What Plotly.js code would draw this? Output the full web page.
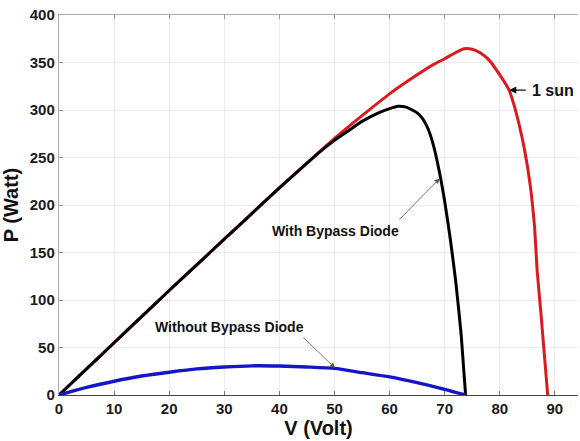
<!DOCTYPE html>
<html>
<head>
<meta charset="utf-8">
<script src="https://cdn.plot.ly/plotly-3.0.1.min.js"></script>
<style>html,body{margin:0;padding:0;background:#fff;}#chart{width:580px;height:441px;}</style>
</head>
<body>
<div id="chart"></div>
<script>
// 1 sun (red) P-V curve
const vSun = [0, 5, 10, 15, 20, 25, 30, 35, 40, 45, 50, 55, 60, 65, 68, 70, 72, 73.5, 75, 76.5, 78, 80, 81.7, 82.5, 83.5, 84.5, 85.5, 86.3, 86.8, 87.5, 88.2, 88.7];
const pSun = [0, 27.5, 55, 82.5, 110, 137, 164, 191, 218, 244, 270, 294, 317, 337, 348, 354, 360.5, 364.5, 364, 360, 353, 337, 321, 307, 285, 258, 222, 178, 130, 84, 35, 0];
// With bypass diode (black)
const vWith = [0, 5, 10, 15, 20, 25, 30, 35, 40, 45, 48, 50, 52, 55, 58, 60, 61.5, 63, 65, 66, 67, 68, 69, 70, 71, 72, 73, 73.8];
const pWith = [0, 27.5, 55, 82.5, 110, 137, 164, 191, 218, 244, 259, 268, 276, 288, 297, 301.5, 304, 303, 297, 291, 280, 262, 236, 204, 165, 120, 63, 0];
// Without bypass diode (blue)
const vWithout = [0, 5, 10, 15, 20, 25, 30, 35, 40, 45, 50, 55, 60, 65, 70, 73.8];
const pWithout = [0, 8, 14.5, 20, 24, 27.5, 29.5, 30.7, 30.5, 29.5, 28, 23.5, 19, 13, 6, 0];

const xTicks = [0, 10, 20, 30, 40, 50, 60, 70, 80, 90];
const yTicks = [0, 50, 100, 150, 200, 250, 300, 350, 400];

const lineW = 3;
const traces = [
  {x: vSun, y: pSun, mode: 'lines', line: {color: '#dc1a1e', width: lineW, shape: 'spline', smoothing: 0.5}, name: '1 sun'},
  {x: vWith, y: pWith, mode: 'lines', line: {color: '#000000', width: lineW, shape: 'spline', smoothing: 0.5}, name: 'With Bypass Diode'},
  {x: vWithout, y: pWithout, mode: 'lines', line: {color: '#1515c8', width: 3.4, shape: 'spline', smoothing: 0.6}, name: 'Without Bypass Diode'},
  {x: [0], y: [0], xaxis: 'x2', yaxis: 'y', mode: 'markers', marker: {opacity: 0}, showlegend: false, hoverinfo: 'skip'}
];

const fam = 'Liberation Sans, Arial, sans-serif';
const tickFont = {family: fam, size: 15, color: '#1a1a1a', weight: 'bold'};
const titleFont = {family: fam, size: 20, color: '#111', weight: 'bold'};
const annFont = {family: fam, size: 14, color: '#111', weight: 'bold'};

const layout = {
  width: 580, height: 441,
  margin: {l: 59, r: 2, t: 15, b: 46},
  paper_bgcolor: '#fff', plot_bgcolor: '#fff',
  showlegend: false,
  xaxis: {
    range: [0, 94.2], tickvals: xTicks, ticktext: xTicks.map(String),
    ticks: 'inside', ticklen: 4, tickcolor: '#777', tickwidth: 1,
    showgrid: true, gridcolor: '#ebebeb', gridwidth: 1,
    showline: true, linecolor: '#444', linewidth: 1.2,
    zeroline: false, tickfont: tickFont,
    title: {text: 'V (Volt)', font: titleFont, standoff: 1}
  },
  xaxis2: {
    range: [0, 94.2], tickvals: xTicks, overlaying: 'x', side: 'top',
    ticks: 'inside', ticklen: 4, tickcolor: '#999', showticklabels: false,
    showgrid: false, showline: true, linecolor: '#aaa', linewidth: 1.2, zeroline: false
  },
  yaxis: {
    range: [0, 400], tickvals: yTicks, ticktext: yTicks.map(String),
    ticks: 'inside', ticklen: 4, tickcolor: '#999', tickwidth: 1,
    showgrid: true, gridcolor: '#ebebeb', gridwidth: 1,
    showline: true, linecolor: '#aaa', linewidth: 1.2,
    zeroline: false, tickfont: tickFont,
    title: {text: 'P (Watt)', font: titleFont, standoff: 6}
  },
  annotations: [
    {x: 85.5, y: 321, xref: 'x', yref: 'y', text: '1 sun', showarrow: false, xanchor: 'left', yanchor: 'middle',
     font: {family: fam, size: 16, color: '#111', weight: 'bold'}},
    {x: 81.7, y: 321, xref: 'x', yref: 'y', ax: 85.0, ay: 321, axref: 'x', ayref: 'y', text: '', showarrow: true,
     arrowhead: 2, arrowsize: 1.2, arrowwidth: 1.2, arrowcolor: '#111'},
    {x: 50.1, y: 172.6, xref: 'x', yref: 'y', text: 'With Bypass Diode', showarrow: false, font: annFont},
    {x: 69.1, y: 228, xref: 'x', yref: 'y', ax: 61.5, ay: 183, axref: 'x', ayref: 'y', text: '', showarrow: true,
     arrowhead: 2, arrowsize: 1.3, arrowwidth: 0.8, arrowcolor: '#555'},
    {x: 30.9, y: 71.6, xref: 'x', yref: 'y', text: 'Without Bypass Diode', showarrow: false, font: annFont},
    {x: 50.1, y: 28.4, xref: 'x', yref: 'y', ax: 44.1, ay: 62, axref: 'x', ayref: 'y', text: '', showarrow: true,
     arrowhead: 2, arrowsize: 1.3, arrowwidth: 0.8, arrowcolor: '#555'}
  ]
};

Plotly.newPlot('chart', traces, layout, {displayModeBar: false, staticPlot: true});
</script>
</body>
</html>
